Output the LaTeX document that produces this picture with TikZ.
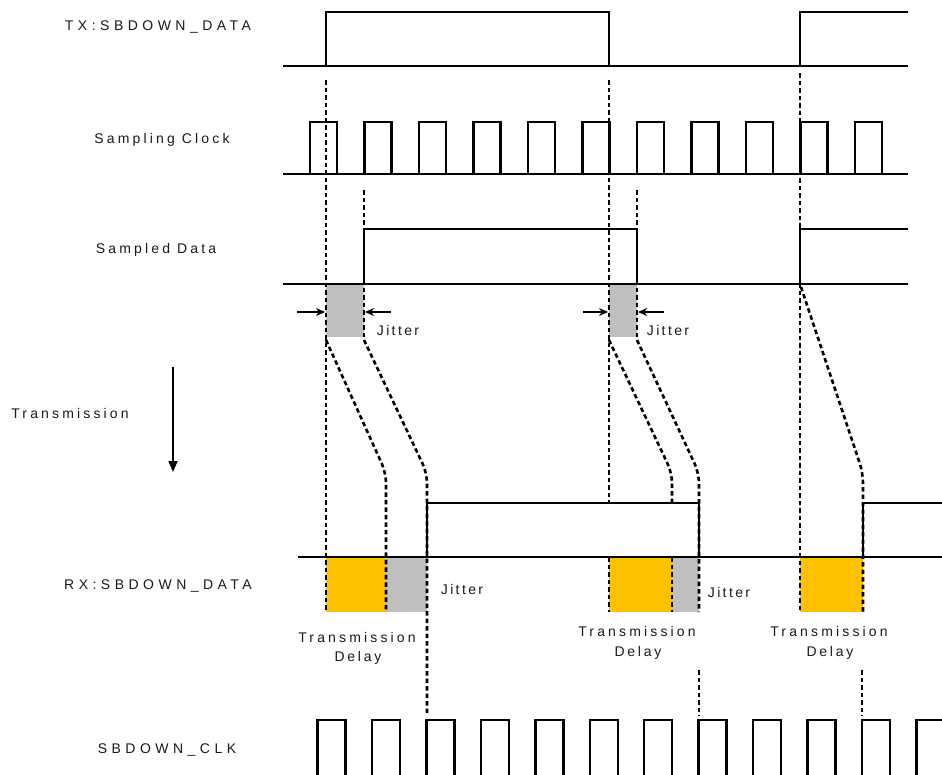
\documentclass[tikz,border=0pt]{standalone}
\usepackage{fontspec}
\setmainfont{Liberation Sans}
\newfontfamily\fcaps[LetterSpace=32]{Liberation Sans}
\newfontfamily\fmix[LetterSpace=22.5]{Liberation Sans}
\newfontfamily\fdel[LetterSpace=20]{Liberation Sans}
\newfontfamily\fjit[LetterSpace=17]{Liberation Sans}
\usetikzlibrary{arrows.meta}
\definecolor{jgray}{HTML}{BFBFBF}
\definecolor{dyellow}{HTML}{FFC000}
\definecolor{txt}{HTML}{1A1A1A}
\begin{document}
\begin{tikzpicture}[x=1pt,y=-1pt,
  sig/.style={line width=2.4pt,line join=miter},
  guide/.style={line width=2.6pt,dash pattern=on 4.5pt off 3pt},
  capslbl/.style={font=\fontsize{14}{16}\selectfont\fcaps,text=txt,inner sep=0pt},
  mixlbl/.style={font=\fontsize{14}{16}\selectfont\fmix,text=txt,inner sep=0pt},
  dellbl/.style={font=\fontsize{14}{16}\selectfont\fdel,text=txt,inner sep=0pt},
  jitlbl/.style={font=\fontsize{14}{16}\selectfont\fjit,text=txt,inner sep=0pt},
  jarrow/.style={line width=1.3pt,-{Stealth[length=9pt,width=8pt]}}
]
\clip (0,0) rectangle (942,774);
\fill[white] (0,0) rectangle (942,774);

% ---- shaded regions
\fill[jgray] (326,284) rectangle (364,337);
\fill[jgray] (609,284) rectangle (637,337);
\fill[dyellow] (326,557) rectangle (386,612);
\fill[jgray] (386,557) rectangle (427,612);
\fill[dyellow] (609,557) rectangle (672,612);
\fill[jgray] (672,557) rectangle (699,612);
\fill[dyellow] (800,557) rectangle (863,612);

% ---- dashed guides
\draw[guide] (326,80) -- (326,612);
\draw[guide] (364,190) -- (364,337);
\draw[guide,rounded corners=10pt] (326,340) -- (386,473) -- (386,612);
\draw[guide,rounded corners=10pt] (364,340) -- (427,473) -- (427,716);
\draw[guide] (609,80) -- (609,503);
\draw[guide] (609,557) -- (609,612);
\draw[guide] (637,190) -- (637,337);
\draw[guide,rounded corners=10pt] (609,340) -- (672,473) -- (672,503);
\draw[guide] (672,557) -- (672,612);
\draw[guide,rounded corners=10pt] (637,340) -- (699,473) -- (699,612);
\draw[guide] (699,670) -- (699,716);
\draw[guide] (800,73) -- (800,612);
\draw[guide,rounded corners=10pt] (801,287) -- (863,473) -- (863,612);
\draw[guide] (862,670) -- (862,716);

% ---- TX:SBDOWN_DATA
\draw[sig] (283,66) -- (908,66);
\draw[sig] (326,66) -- (326,12) -- (609,12) -- (609,66);
\draw[sig] (800,66) -- (800,12) -- (908,12);

% ---- Sampling clock
\draw[sig] (283,174) -- (908,174);
\foreach \k in {0,...,10}{
  \pgfmathsetmacro\xa{310+54.5*\k}
  \draw[sig] (\xa,174) -- (\xa,122) -- (\xa+27,122) -- (\xa+27,174);
}

% ---- Sampled data
\draw[sig] (283,284) -- (908,284);
\draw[sig] (364,284) -- (364,229) -- (637,229) -- (637,284);
\draw[sig] (800,284) -- (800,229) -- (908,229);

% ---- RX:SBDOWN_DATA
\draw[sig] (298,557) -- (942,557);
\draw[sig] (427,557) -- (427,503) -- (699,503) -- (699,557);
\draw[sig] (863,557) -- (863,503) -- (942,503);

% ---- SBDOWN_CLK
\foreach \k in {0,...,11}{
  \pgfmathsetmacro\xb{317.5+54.45*\k}
  \draw[sig] (\xb,780) -- (\xb,720) -- (\xb+28,720) -- (\xb+28,780);
}

% ---- jitter arrows
\draw[jarrow] (297,312) -- (325,312);
\draw[jarrow] (391,312) -- (365,312);
\draw[jarrow] (583,312) -- (608,312);
\draw[jarrow] (664,312) -- (638,312);

% ---- transmission arrow
\coordinate (tA) at (173,367);
\coordinate (tB) at (173,472);
\draw[line width=1.6pt,-{Triangle[length=11pt,width=9pt]}] (tA) -- (tB);

% ---- labels
\node[capslbl] (ltx) at (158,27) {TX:SBDOWN\_DATA};
\node[mixlbl] (lsc) at (162,140) {Sampling Clock};
\node[mixlbl] (lsd) at (156,250) {Sampled Data};
\node[mixlbl] (ltr) at (70,413) {Transmission};
\node[capslbl] (lrx) at (158,586) {RX:SBDOWN\_DATA};
\node[capslbl] (lclk) at (167,750) {SBDOWN\_CLK};

\node[jitlbl] (j1) at (398,330) {Jitter};
\node[jitlbl] (j2) at (668,330) {Jitter};
\node[jitlbl] (j3) at (462,589) {Jitter};
\node[jitlbl] (j4) at (729,592) {Jitter};

\node[mixlbl] (td1) at (357,637) {Transmission};
\node[dellbl] (dd1) at (358,658) {Delay};
\node[mixlbl] (td2) at (637,631) {Transmission};
\node[dellbl] (dd2) at (638,653) {Delay};
\node[mixlbl] (td3) at (829,631) {Transmission};
\node[dellbl] (dd3) at (830,653) {Delay};
\end{tikzpicture}
\end{document}
